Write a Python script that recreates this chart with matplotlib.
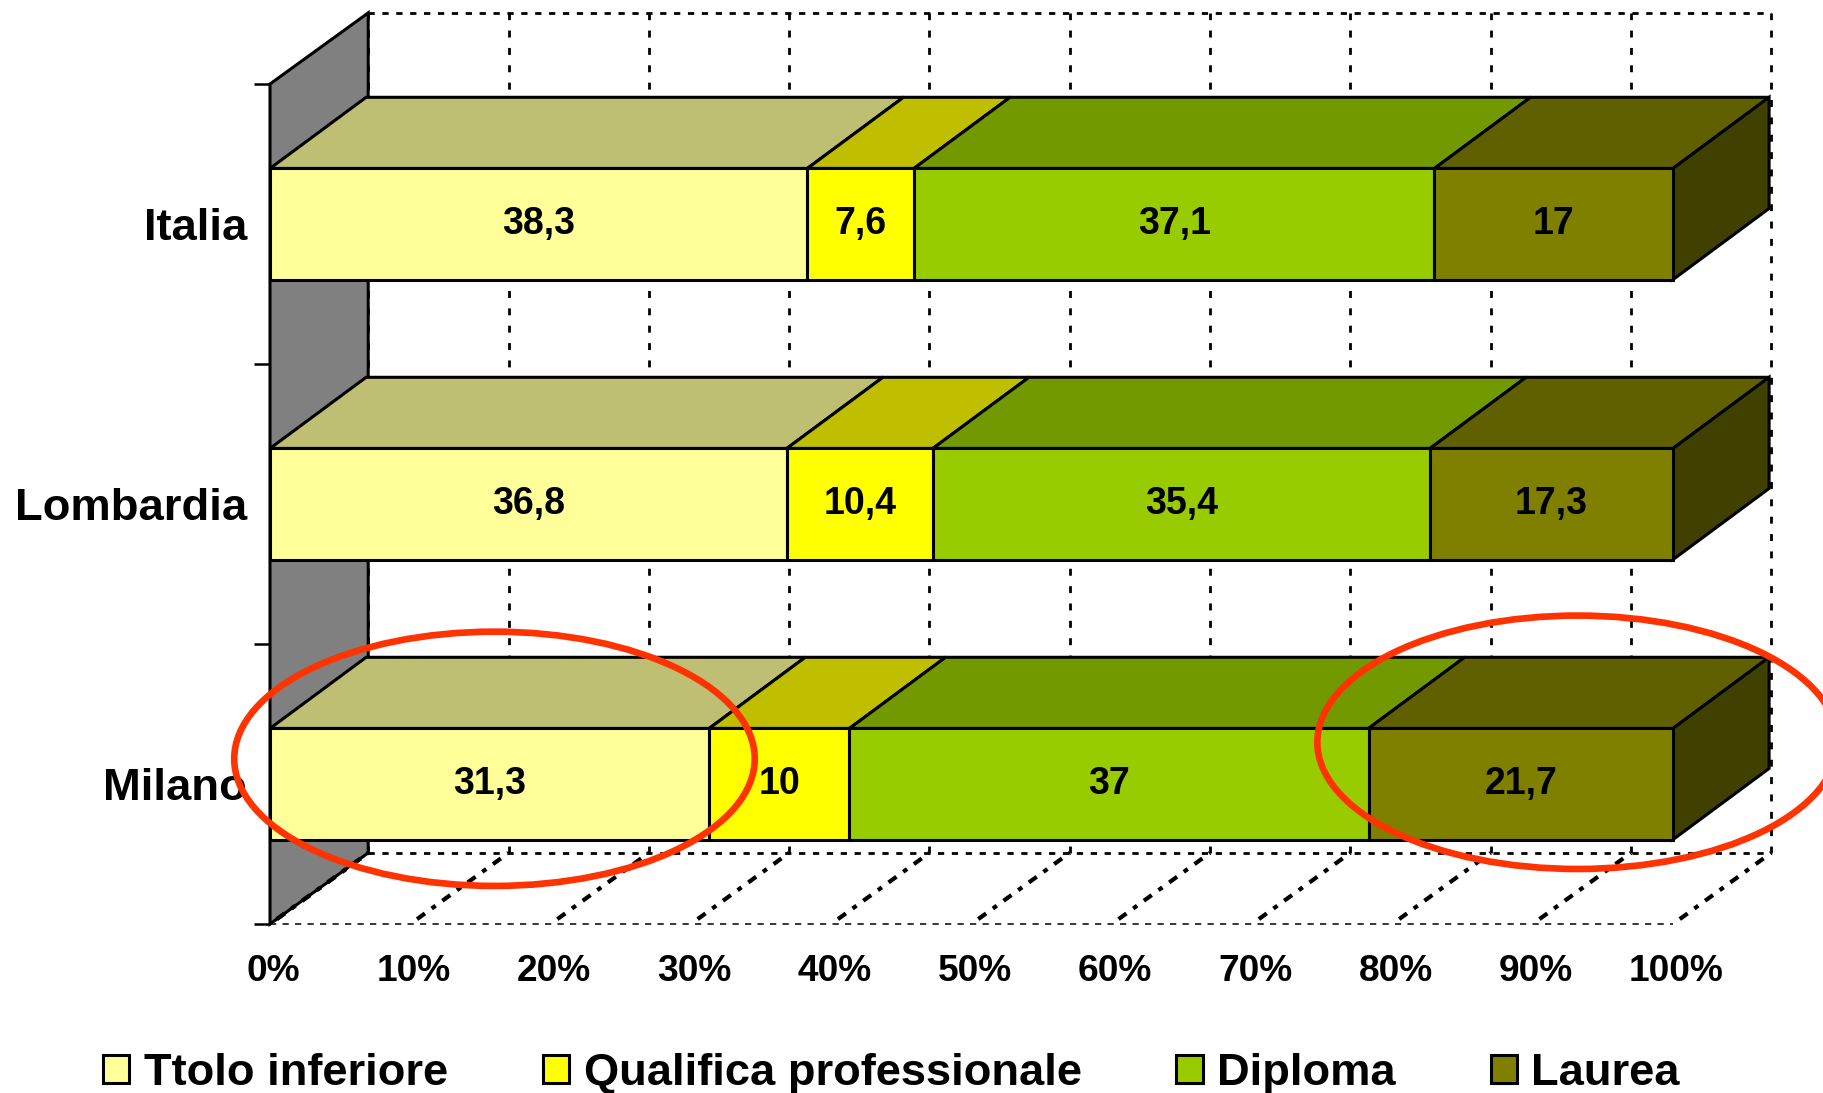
import numpy as np
from matplotlib import pyplot as plt
from matplotlib.colors import to_rgb
from matplotlib.patches import Ellipse, Patch, Polygon
from matplotlib.transforms import ScaledTranslation

plt.rcParams['font.family'] = ['Liberation Sans', 'DejaVu Sans']
plt.rcParams['font.weight'] = 'bold'
plt.rcParams['lines.scale_dashes'] = False

categories = ['Milano', 'Lombardia', 'Italia']
series_names = ['Ttolo inferiore', 'Qualifica professionale', 'Diploma', 'Laurea']
titolo = [31.3, 36.8, 38.3]
qualifica = [10, 10.4, 7.6]
diploma = [37, 35.4, 37.1]
laurea = [21.7, 17.3, 17]
colors = ['#FFFF99', '#FFFF00', '#99CC00', '#808000']
x_ticks = np.arange(0, 110, 10)
x_tick_labels = [str(t) + '%' for t in x_ticks]

# depth of the fake 3D box, in data units
DX = 7.0
DY = 0.254
BAR_DX = 6.85
BAR_H = 0.397
EDGE = 2.2
DIAG = (16.5, (7, 6, 3.5, 6))

fig = plt.figure(figsize=(18.23, 10.93), dpi=100)
ax = fig.add_axes([270 / 1823, 1 - 924 / 1093, 1403 / 1823, 840 / 1093])
ax.set_xlim(0, 100)
ax.set_ylim(0, 3)
for s in ax.spines.values():
    s.set_visible(False)
ax.patch.set_visible(False)

ypos = np.arange(len(categories)) + 0.5
values = np.array([titolo, qualifica, diploma, laurea], dtype=float)
shares = values / values.sum(axis=0) * 100

# back wall and floor grid
grid_style = dict(color='k', clip_on=False, zorder=1)
for t in x_ticks:
    ax.plot([t + DX, t + DX], [DY, 3 + DY], lw=2.0, ls=(0, (5, 7.5)), **grid_style)
    ax.plot([t, t + DX], [0, DY], lw=3.0, ls=DIAG, **grid_style)
ax.plot([DX, 100 + DX], [3 + DY, 3 + DY], lw=2.0, ls=(0, (4.5, 5.5)), **grid_style)
ax.plot([DX, 100 + DX], [DY, DY], lw=2.0, ls=(0, (4.5, 5.5)), **grid_style)
ax.plot([0, 100], [0, 0], lw=1.1, ls=(0, (4.5, 4.5)), **grid_style)

# grey side wall
ax.add_patch(Polygon([(0, 0), (DX, DY), (DX, 3 + DY), (0, 3)], closed=True,
                     facecolor='#808080', edgecolor='k', lw=EDGE, clip_on=False, zorder=1.5))
ax.plot([0, DX], [0, DY], lw=3.0, ls=DIAG, **dict(grid_style, zorder=1.6))

# stacked bars
left = np.zeros(len(categories))
for i, name in enumerate(series_names):
    bars = ax.barh(ypos, shares[i], BAR_H, left=left, color=colors[i], edgecolor='k',
                   linewidth=EDGE, clip_on=False, zorder=3)
    labels = [('%g' % v).replace('.', ',') for v in values[i]]
    ax.bar_label(bars, labels=labels, label_type='center', fontsize=27, fontweight='bold', zorder=5)
    top_color = tuple(c * 0.75 for c in to_rgb(colors[i]))
    for y, l, w in zip(ypos, left, shares[i]):
        top = y + BAR_H / 2
        ax.add_patch(Polygon([(l, top), (l + BAR_DX, top + DY), (l + w + BAR_DX, top + DY), (l + w, top)],
                             closed=True, facecolor=top_color, edgecolor='k', lw=EDGE,
                             clip_on=False, zorder=2.5))
    left = left + shares[i]

# dark right side of each bar
side_color = tuple(c * 0.5 for c in to_rgb(colors[-1]))
for y, r in zip(ypos, left):
    top = y + BAR_H / 2
    bottom = y - BAR_H / 2
    ax.add_patch(Polygon([(r, bottom), (r + BAR_DX, bottom + DY), (r + BAR_DX, top + DY), (r, top)],
                         closed=True, facecolor=side_color, edgecolor='k', lw=EDGE,
                         clip_on=False, zorder=2.5))

ax.set_xticks(x_ticks)
ax.set_xticklabels(x_tick_labels, fontsize=26.7, fontweight='bold')
ax.tick_params(axis='x', length=0, pad=21.5)
shift = ScaledTranslation(3.5 / 100, 0, fig.dpi_scale_trans)
for lab in ax.get_xticklabels():
    lab.set_transform(lab.get_transform() + shift)

ax.set_yticks(np.arange(0, 4))
ax.set_yticklabels([])
ax.tick_params(axis='y', which='major', length=11.5, width=1.8)
ax.set_yticks(ypos, minor=True)
ax.set_yticklabels(categories, minor=True, fontsize=32.7, fontweight='bold')
ax.tick_params(axis='y', which='minor', length=0, pad=16.5)

# red hand drawn circles
ax.add_patch(Ellipse((16.0, 0.59), 37.1, 0.908, fill=False, edgecolor='#FF3300', lw=4.8,
                     clip_on=False, zorder=6))
ax.add_patch(Ellipse((93.2, 0.649), 37.1, 0.905, fill=False, edgecolor='#FF3300', lw=4.8,
                     clip_on=False, zorder=6))

handles = [Patch(facecolor=c, edgecolor='k', linewidth=EDGE) for c in colors]
fig.legend(handles, series_names, ncol=4, loc='center left',
           bbox_to_anchor=(103.2 / 1823, 1 - 1073.5 / 1093), bbox_transform=fig.transFigure,
           frameon=False, borderpad=0, borderaxespad=0,
           handlelength=0.58, handleheight=0.58, handletextpad=0.318, columnspacing=2.096,
           prop=dict(weight='bold', size=32.6))

fig.savefig('out.png', dpi=100)
